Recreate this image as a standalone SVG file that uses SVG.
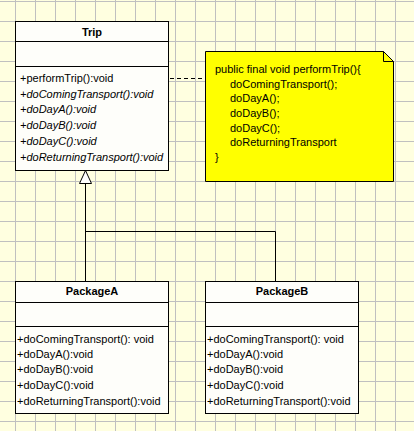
<svg xmlns="http://www.w3.org/2000/svg" width="414" height="431" viewBox="0 0 414 431">
<defs>
<pattern id="grid" patternUnits="userSpaceOnUse" x="15" y="1" width="20" height="20">
<path d="M0.5 0V20M0 0.5H20" stroke="#c0c0c0" stroke-width="1" fill="none"/>
</pattern>
</defs>
<style>
.box{fill:#fefefa;stroke:#000;stroke-width:1}
.t{font-family:"Liberation Sans",Arial,sans-serif;font-size:11px;fill:#000}
.b{font-weight:bold;text-anchor:middle}
.i{font-style:italic}
.ln{stroke:#000;stroke-width:1;fill:none}
</style>
<rect width="414" height="431" fill="#ffffe0"/>
<rect width="414" height="431" fill="url(#grid)"/>
<g id="connectors">
<path class="ln" d="M163 78.5H205.5" stroke-dasharray="4,3"/>
<path class="ln" d="M85.5 281V183.5M85.5 231.5H275.5V281"/>
<polygon points="85.5,170.5 79.5,183.5 91.5,183.5" fill="#fff" stroke="#000"/>
</g>
<g id="Trip">
<rect class="box" x="15.5" y="21.5" width="153" height="149"/>
<path class="ln" d="M15.5 41.5H168.5M15.5 66.5H168.5"/>
<text class="t b" x="92" y="36">Trip</text>
<text class="t" x="20" y="82">+performTrip():void</text>
<text class="t i" x="20" y="98">+doComingTransport():void</text>
<text class="t i" x="20" y="113">+doDayA():void</text>
<text class="t i" x="20" y="129">+doDayB():void</text>
<text class="t i" x="20" y="145">+doDayC():void</text>
<text class="t i" x="20" y="161">+doReturningTransport():void</text>
</g>
<g id="note">
<path d="M205.5 51.5H383.5L393.5 61.5V181.5H205.5Z" fill="#ffff00" stroke="#000"/>
<path d="M383.5 51.5V61.5H393.5Z" fill="#ffff00" stroke="#000"/>
<text class="t" x="215" y="73">public final void performTrip(){</text>
<text class="t" x="230" y="88">doComingTransport();</text>
<text class="t" x="230" y="102">doDayA();</text>
<text class="t" x="230" y="117">doDayB();</text>
<text class="t" x="230" y="132">doDayC();</text>
<text class="t" x="230" y="146">doReturningTransport</text>
<text class="t" x="215" y="161">}</text>
</g>
<g id="PackageA">
<rect class="box" x="15.5" y="281.5" width="153" height="132"/>
<path class="ln" d="M15.5 302.5H168.5M15.5 326.5H168.5"/>
<text class="t b" x="92" y="295">PackageA</text>
<text class="t" x="17" y="343">+doComingTransport(): void</text>
<text class="t" x="17" y="358">+doDayA():void</text>
<text class="t" x="17" y="373">+doDayB():void</text>
<text class="t" x="17" y="389">+doDayC():void</text>
<text class="t" x="17" y="405">+doReturningTransport():void</text>
</g>
<g id="PackageB">
<rect class="box" x="205.5" y="281.5" width="153" height="132"/>
<path class="ln" d="M205.5 302.5H358.5M205.5 326.5H358.5"/>
<text class="t b" x="282" y="295">PackageB</text>
<text class="t" x="207" y="343">+doComingTransport(): void</text>
<text class="t" x="207" y="358">+doDayA():void</text>
<text class="t" x="207" y="373">+doDayB():void</text>
<text class="t" x="207" y="389">+doDayC():void</text>
<text class="t" x="207" y="405">+doReturningTransport():void</text>
</g>
</svg>
